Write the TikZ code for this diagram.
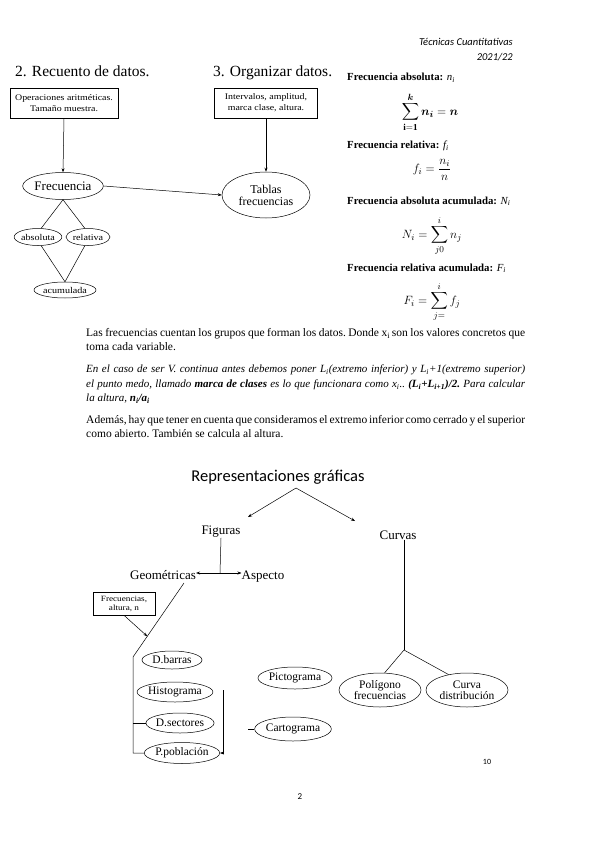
\documentclass[tikz,border=0pt]{standalone}
\usepackage{amsmath}
\usepackage{fontspec}
\setmainfont{Liberation Serif}
\newfontfamily\calib{Carlito}
\newfontfamily\wide{Liberation Serif}[FakeStretch=1.15]
\usetikzlibrary{shapes.geometric,arrows.meta,calc}
\newcommand{\fullline}[1]{\makebox[439pt][s]{\spaceskip=0.16em plus 1em minus 0.05em\relax #1}}
\tikzset{
  every node/.style={inner sep=0pt, text=black},
  ell/.style={draw, ellipse, line width=0.5pt, inner sep=0pt, align=center},
  boxn/.style={draw, rectangle, line width=0.6pt, align=center},
  con/.style={line width=0.5pt},
  arr/.style={con, -{Stealth[length=4pt,width=3pt]}},
  para/.style={anchor=base west, font=\frenchspacing\fontsize{11.5}{12}\selectfont},
  parai/.style={anchor=base west, font=\frenchspacing\itshape\fontsize{11}{12}\selectfont},
  lab/.style={anchor=base west, font=\bfseries\fontsize{10.8}{12}\selectfont},
  big/.style={font=\fontsize{13}{15}\selectfont},
  frm/.style={font=\fontsize{13}{15}\selectfont},
  elt/.style={ell, font=\fontsize{11.5}{12}\selectfont},
}
\begin{document}
\begin{tikzpicture}[x=1pt,y=-1pt]
\useasboundingbox (0,0) rectangle (599,848);
% header
\node[anchor=east, font=\calib\itshape\fontsize{10.5}{12}\selectfont] (hd1) at (513,42) {Técnicas Cuantitativas};
\node[anchor=east, font=\calib\itshape\fontsize{10.5}{12}\selectfont] (hd2) at (513,57) {2021/22};
% headings
\node[anchor=base west, font=\fontsize{15.5}{18}\selectfont] (h2) at (15,77) {2. Recuento de datos.};
\node[anchor=base west, font=\fontsize{15.5}{18}\selectfont] (h3) at (213,77) {3. Organizar datos.};
% top-left diagram
\node[boxn, minimum width=108, minimum height=30, font=\wide\fontsize{8.6}{11}\selectfont] (b1) at (64,103) {Operaciones aritméticas.\\Tamaño muestra.};
\node[boxn, minimum width=103, minimum height=30, font=\wide\fontsize{8.6}{11}\selectfont] (b2) at (266,103) {Intervalos, amplitud,\\marca clase, altura.};
\node[ell, minimum width=78, minimum height=27, font=\fontsize{13}{14}\selectfont] (fr) at (63,186) {Frecuencia};
\node[ell, minimum width=88, minimum height=46, font=\fontsize{12}{12}\selectfont] (tb) at (266,195) {Tablas\\frecuencias};
\node[ell, minimum width=44, minimum height=17, font=\wide\fontsize{8.8}{9}\selectfont] (ab) at (38,237) {absoluta};
\node[ell, minimum width=44, minimum height=17, font=\wide\fontsize{8.8}{9}\selectfont] (re) at (88,237) {relativa};
\node[ell, minimum width=50, minimum height=16, font=\wide\fontsize{8.8}{9}\selectfont] (ac) at (65,290) {acumulada};
\draw[arr] (b1.south) -- (fr.north);
\draw[arr] (b2.south) -- (tb.north);
\draw[arr] (fr.east) -- (tb.west);
\draw[con] (fr.south) -- (ab.70);
\draw[con] (fr.south) -- (re.110);
\draw[con] (ab.-70) -- (ac.north);
\draw[con] (re.-110) -- (ac.north);
% formulas
\node[lab] (la) at (347,81) {Frecuencia absoluta: \textnormal{\itshape n\textsubscript{i}}};
\node[frm] (s1) at (430,112) {$\displaystyle\sum_{\mathbf{i=1}}^{\boldsymbol{k}} \boldsymbol{n_i} = \boldsymbol{n}$};
\node[lab] (lr) at (347,149) {Frecuencia relativa: \textnormal{\itshape f\textsubscript{i}}};
\node[frm] (s2) at (432,170) {$f_i = \dfrac{n_i}{n}$};
\node[lab] (laa) at (347,204) {Frecuencia absoluta acumulada: \textnormal{\itshape N\textsubscript{i}}};
\node[frm] (s3) at (432,236) {$N_i = \displaystyle\sum_{j0}^{i} n_j$};
\node[lab] (lra) at (347,271) {Frecuencia relativa acumulada: \textnormal{\itshape F\textsubscript{i}}};
\node[frm] (s4) at (432,302) {$F_i = \displaystyle\sum_{j=}^{i} f_j$};
% paragraphs
\node[para] (p1) at (86,336.5) {\fullline{Las frecuencias cuentan los grupos que forman los datos. Donde x\textsubscript{i}\,son los valores concretos que}};
\node[para] (p2) at (86,350.5) {toma cada variable.};
\node[parai] (p3) at (86,372.5) {\fullline{En el caso de ser V. continua antes debemos poner L\textsubscript{i}(extremo inferior) y L\textsubscript{i}+1(extremo superior)}};
\node[parai] (p4) at (86,387.5) {\fullline{el punto medo, llamado \textbf{marca de clases} es lo que funcionara como x\textsubscript{i}.. \textbf{(L\textsubscript{i}+L\textsubscript{i+1})/2.} Para calcular}};
\node[parai] (p5) at (86,401.5) {la altura, \textbf{n\textsubscript{i}/a\textsubscript{i}}};
\node[para] (p6) at (86,423.5) {\fullline{Además, hay que tener en cuenta que consideramos el extremo inferior como cerrado y el superior}};
\node[para] (p7) at (86,437.5) {como abierto. También se calcula al altura.};
% bottom diagram
\node[font=\calib\fontsize{16.5}{18}\selectfont] (rg) at (278,477) {Representaciones gráficas};
\node[big] (fig) at (221,532) {Figuras};
\node[big] (cur) at (398,535) {Curvas};
\node[big, anchor=base] (geo) at (163,579) {Geométricas};
\node[big, anchor=base] (asp) at (263,579) {Aspecto};
\coordinate (ap) at (296,488);
\coordinate (fl) at (248,517);
\coordinate (frr) at (355,521);
\draw[arr] (ap) -- (fl);
\draw[arr] (ap) -- (frr);
\coordinate (jn) at (220,573);
\draw[con] (fig.south) -- (jn);
\draw[arr] (jn) -- (geo.east |- jn);
\draw[arr] (jn) -- (asp.west |- jn);
\node[elt, minimum width=60, minimum height=18] (db) at (172,660) {D.barras};
\node[elt, minimum width=72, minimum height=20] (hi) at (175,692) {Histograma};
\node[elt, minimum width=66, minimum height=20] (ds) at (180,723) {D.sectores};
\node[elt, minimum width=74, minimum height=21] (pp) at (182,753) {P.población};
\node[elt, minimum width=70, minimum height=22] (pi) at (295,678) {Pictograma};
\node[elt, minimum width=68, minimum height=24] (ca) at (293,729) {Cartograma};
\node[elt, minimum width=82, minimum height=34, font=\fontsize{11.5}{11.5}\selectfont] (po) at (380,690) {Polígono\\frecuencias};
\node[elt, minimum width=82, minimum height=34, font=\fontsize{11.5}{11.5}\selectfont] (cd) at (467,690) {Curva\\distribución};
\coordinate (gs) at (184,583);
\coordinate (c1) at (133,657);
\draw[con] (gs) -- (c1) -- (c1 |- pp.west) -- (pp.west);
\draw[con] (c1 |- ds.west) -- (ds.west);
\path (gs) -- (c1) coordinate[pos=0.72] (dp);
\node[boxn, minimum width=62, minimum height=23, font=\wide\fontsize{8}{9}\selectfont] (bf) at (124,603.5) {Frecuencias,\\altura, n};
\draw[arr] (bf.south) -- (dp);
\coordinate (vt) at (223,690);
\draw[arr] (vt) -- (vt |- pp.east) -- (pp.east);
\coordinate (cl) at (248,729);
\draw[con] (cl) -- (ca.west);
\coordinate (cj) at (404,650);
\draw[con] (cur.south -| cj) -- (cj);
\draw[con] (cj) -- (po.75);
\draw[con] (cj) -- (cd.140);
% page numbers
\node[font=\calib\fontsize{8}{9}\selectfont] (n10) at (487,762) {10};
\node[font=\calib\fontsize{9}{10}\selectfont] (n2) at (300,797) {2};
\end{tikzpicture}
\end{document}
